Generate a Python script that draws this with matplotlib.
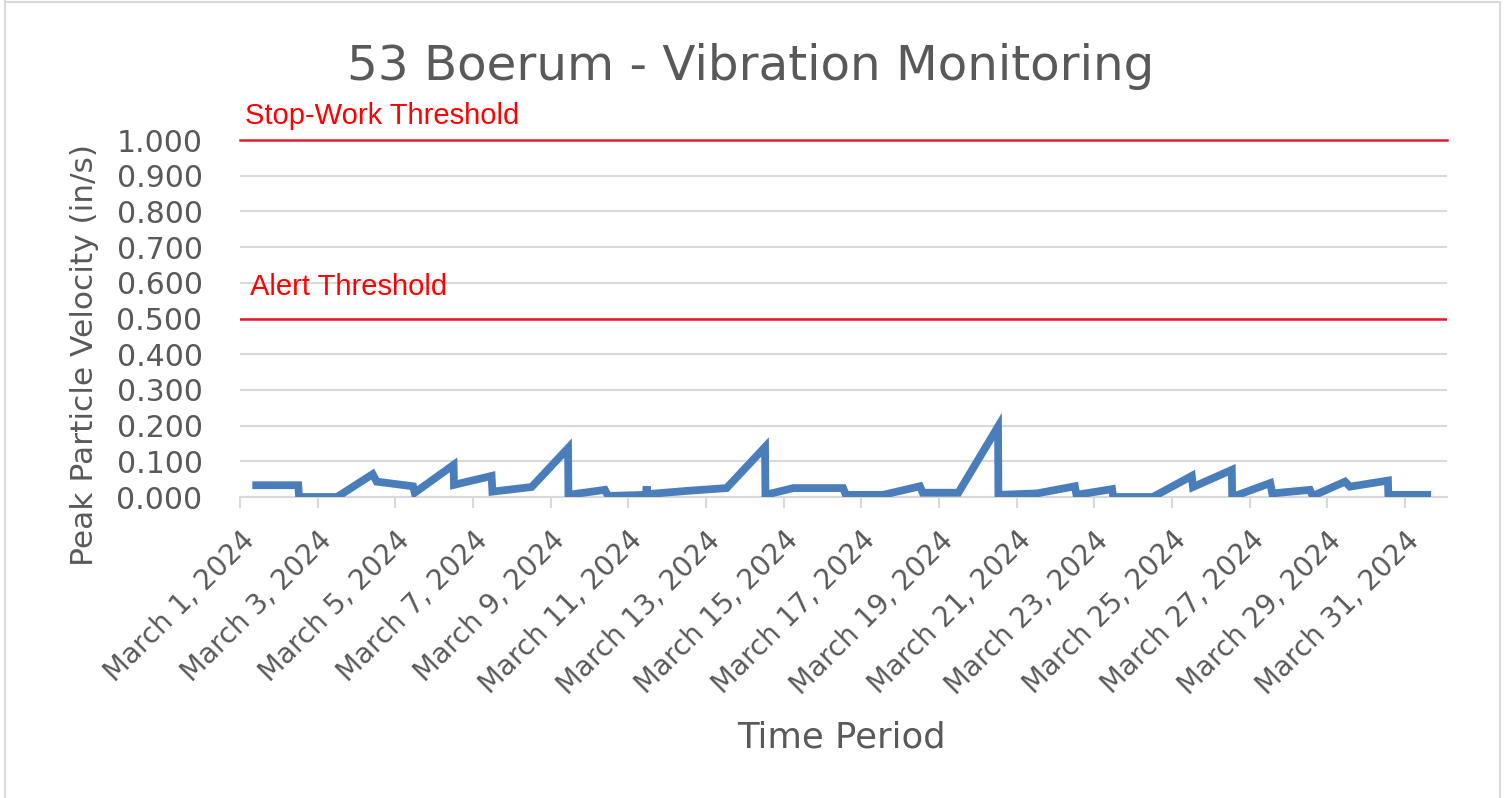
import matplotlib
matplotlib.use("Agg")
import matplotlib.pyplot as plt
from matplotlib.lines import Line2D
import pandas as pd

# readings (timestamp, peak particle velocity in/s)
times = [
    "2024-03-01 10:00", "2024-03-02 12:00", "2024-03-02 12:30", "2024-03-03 12:00",
    "2024-03-04 10:00", "2024-03-04 12:30", "2024-03-05 11:00", "2024-03-05 12:00",
    "2024-03-06 12:00", "2024-03-06 12:15", "2024-03-07 11:30", "2024-03-07 12:00",
    "2024-03-08 12:15", "2024-03-09 10:45", "2024-03-09 11:00", "2024-03-10 09:30",
    "2024-03-10 11:30", "2024-03-11 11:00", "2024-03-11 11:20", "2024-03-11 11:40",
    "2024-03-12 12:00", "2024-03-13 12:45", "2024-03-14 12:30", "2024-03-14 12:45",
    "2024-03-15 06:00", "2024-03-16 12:45", "2024-03-16 14:30", "2024-03-17 13:30",
    "2024-03-18 12:15", "2024-03-18 14:00", "2024-03-19 12:00", "2024-03-20 12:30",
    "2024-03-20 12:45", "2024-03-21 12:30", "2024-03-22 12:00", "2024-03-22 13:00",
    "2024-03-23 11:00", "2024-03-23 11:45", "2024-03-24 12:15", "2024-03-25 12:15",
    "2024-03-25 13:00", "2024-03-26 13:00", "2024-03-26 13:15", "2024-03-27 12:45",
    "2024-03-27 14:00", "2024-03-28 13:15", "2024-03-28 15:00", "2024-03-29 11:00",
    "2024-03-29 14:00", "2024-03-30 13:30", "2024-03-30 13:45", "2024-03-31 13:45",
]
ppv = [
    0.033, 0.033, 0.000, 0.000,
    0.064, 0.043, 0.030, 0.012,
    0.090, 0.034, 0.059, 0.015,
    0.028, 0.137, 0.006, 0.020,
    0.003, 0.006, 0.030, 0.008,
    0.017, 0.025, 0.140, 0.006,
    0.025, 0.025, 0.006, 0.006,
    0.030, 0.012, 0.012, 0.197,
    0.006, 0.010, 0.030, 0.006,
    0.022, 0.000, 0.000, 0.059,
    0.028, 0.076, 0.000, 0.039,
    0.010, 0.020, 0.003, 0.043,
    0.029, 0.046, 0.006, 0.006,
]

stop_work = 1.0
alert = 0.5
y_ticks = [0.0, 0.1, 0.2, 0.3, 0.4, 0.5, 0.6, 0.7, 0.8, 0.9, 1.0]

grey_txt = "#595959"
grid_c = "#d9d9d9"

t = pd.to_datetime(times)

fig = plt.figure(figsize=(15.07, 7.98), dpi=100)
W, H = 1507, 798
ax = fig.add_axes([240 / W, 1 - 497 / H, (1447 - 240) / W, (497 - 140) / H])

ax.set_ylim(0, 1.0)
ax.set_xlim(pd.Timestamp("2024-03-01"), pd.Timestamp("2024-04-01 02:00"))
ax.set_yticks(y_ticks)
ax.set_yticklabels([f"{v:.3f}" for v in y_ticks])
ax.yaxis.grid(True, color=grid_c, linewidth=1.5)
ax.set_axisbelow(True)

for s in ["top", "right", "left"]:
    ax.spines[s].set_visible(False)
ax.spines["bottom"].set_color(grid_c)
ax.spines["bottom"].set_linewidth(1.5)
ax.spines["bottom"].set_zorder(1)

ax.axhline(stop_work, color="#e8192c", linewidth=1.8, zorder=3, clip_on=False)
ax.axhline(alert, color="#e8192c", linewidth=1.8, zorder=3)

ax.plot(t, ppv, color="#4a7ebb", linewidth=5.6, solid_joinstyle="miter", zorder=4)

ticks = pd.date_range("2024-03-01", "2024-03-31", freq="2D")
ax.set_xticks(ticks)
ax.set_xticklabels([f"{d:%B} {d.day}, {d.year}" for d in ticks])
ax.tick_params(axis="x", length=8, width=1.5, color=grid_c, pad=13,
               labelsize=20, labelcolor=grey_txt)
for lab in ax.get_xticklabels():
    lab.set_rotation(45)
    lab.set_ha("right")
    lab.set_va("top")
    lab.set_rotation_mode("anchor")
ax.tick_params(axis="y", length=0, pad=27, labelsize=21.5, labelcolor=grey_txt)

fig.text(751 / W, 1 - 80 / H, "53 Boerum - Vibration Monitoring", ha="center",
         va="baseline", fontsize=34.8, color=grey_txt)
fig.text(85 / W, 1 - 355 / H, "Peak Particle Velocity (in/s)", rotation=90,
         ha="center", va="center", fontsize=22.5, color=grey_txt)
fig.text(841 / W, 1 - 747 / H, "Time Period", ha="center", va="baseline",
         fontsize=25.5, color=grey_txt)

fig.text(245 / W, 1 - 124 / H, "Stop-Work Threshold", ha="left", va="baseline",
         fontsize=21, color="#ff0000", family="Liberation Sans")
fig.text(250 / W, 1 - 295 / H, "Alert Threshold", ha="left", va="baseline",
         fontsize=21, color="#ff0000", family="Liberation Sans")

# chart frame
for xs, ys in [([5, 5], [0, 798]), ([5, 1500], [2, 2]), ([1500, 1500], [2, 798])]:
    fig.add_artist(Line2D([x / W for x in xs], [1 - y / H for y in ys],
                          color=grid_c, linewidth=1.5))

fig.savefig("out.png", dpi=100)
